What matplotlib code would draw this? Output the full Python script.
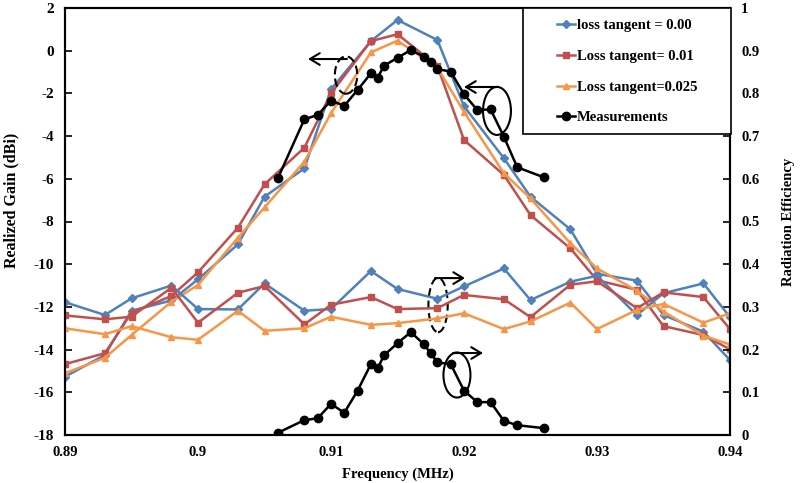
import matplotlib
matplotlib.use("Agg")
import matplotlib.pyplot as plt
from matplotlib.patches import Ellipse, Rectangle

plt.rcParams['font.family'] = ['Liberation Serif', 'DejaVu Serif']
plt.rcParams['font.weight'] = 'bold'
plt.rcParams['axes.unicode_minus'] = False

freq = [0.89, 0.893, 0.895, 0.898, 0.9, 0.903, 0.905, 0.908, 0.91, 0.913, 0.915,
        0.918, 0.92, 0.923, 0.925, 0.928, 0.93, 0.933, 0.935, 0.938, 0.94]

gain_lt000 = [-15.27, -14.25, -12.18, -11.7, -10.71, -9.07, -6.84, -5.51, -1.81, 0.45, 1.44,
              0.5, -2.6, -5.04, -6.84, -8.37, -10.45, -10.77, -12.38, -13.16, -14.49]
gain_lt001 = [-14.68, -14.17, -12.27, -11.49, -10.38, -8.29, -6.26, -4.54, -2.0, 0.45, 0.77,
              -0.72, -4.18, -5.82, -7.7, -9.26, -10.75, -11.2, -12.9, -13.32, -13.99]
gain_lt0025 = [-15.11, -14.38, -13.32, -11.76, -10.97, -8.76, -7.34, -5.2, -2.93, -0.08, 0.47,
               -0.8, -2.86, -5.74, -6.92, -9.02, -10.2, -11.24, -12.22, -13.35, -13.76]

eff_lt000 = [0.311, 0.281, 0.320, 0.350, 0.295, 0.294, 0.355, 0.291, 0.295, 0.384, 0.342,
             0.319, 0.348, 0.390, 0.316, 0.359, 0.373, 0.281, 0.332, 0.355, 0.276]
eff_lt001 = [0.280, 0.271, 0.277, 0.345, 0.263, 0.333, 0.349, 0.259, 0.305, 0.323, 0.295,
             0.297, 0.328, 0.318, 0.276, 0.352, 0.360, 0.297, 0.334, 0.323, 0.248]
eff_lt0025 = [0.250, 0.236, 0.255, 0.229, 0.223, 0.291, 0.244, 0.250, 0.277, 0.258, 0.262,
              0.273, 0.285, 0.248, 0.266, 0.310, 0.248, 0.293, 0.307, 0.263, 0.285]

meas_freq = [0.906, 0.908, 0.909, 0.910, 0.911, 0.912, 0.913, 0.9135, 0.914, 0.915, 0.916,
             0.917, 0.9175, 0.918, 0.919, 0.920, 0.921, 0.922, 0.923, 0.924, 0.926]
meas_gain = [-5.98, -3.21, -3.01, -2.34, -2.58, -1.84, -1.06, -1.26, -0.70, -0.33, 0.03,
             -0.28, -0.51, -0.86, -0.98, -2.04, -2.78, -2.75, -4.03, -5.46, -5.93]
meas_eff = [0.005, 0.035, 0.039, 0.073, 0.052, 0.104, 0.166, 0.156, 0.187, 0.215, 0.241,
            0.212, 0.191, 0.170, 0.166, 0.104, 0.077, 0.077, 0.033, 0.023, 0.016]

labels = ["loss tangent = 0.00", "Loss tangent= 0.01", "Loss tangent=0.025", "Measurements"]
colors = ["#4F81BD", "#C0504D", "#F79646", "#000000"]
markers = ["D", "s", "^", "o"]
msizes = [4.5, 5, 5, 6]

x_ticks = [0.89, 0.9, 0.91, 0.92, 0.93, 0.94]
x_ticklabels = ["0.89", "0.9", "0.91", "0.92", "0.93", "0.94"]
gain_ticks = [-18, -16, -14, -12, -10, -8, -6, -4, -2, 0, 2]
eff_ticks = [0, 0.1, 0.2, 0.3, 0.4, 0.5, 0.6, 0.7, 0.8, 0.9, 1]
eff_ticklabels = ["0", "0.1", "0.2", "0.3", "0.4", "0.5", "0.6", "0.7", "0.8", "0.9", "1"]

fig = plt.figure(figsize=(8, 4.83), dpi=100)
ax = fig.add_axes([65/800, 1-435/483, (730-65)/800, (435-8)/483])
ax2 = ax.twinx()

gains = [gain_lt000, gain_lt001, gain_lt0025]
effs = [eff_lt000, eff_lt001, eff_lt0025]
handles = []
for i in range(3):
    h, = ax.plot(freq, gains[i], color=colors[i], marker=markers[i], ms=msizes[i], lw=1.8,
                 label=labels[i])
    handles.append(h)
    ax2.plot(freq, effs[i], color=colors[i], marker=markers[i], ms=msizes[i], lw=1.8)
h, = ax2.plot(meas_freq, meas_gain, color="black", marker="o", ms=6, lw=1.8, label=labels[3],
              transform=ax.transData)
handles.append(h)
ax2.plot(meas_freq, meas_eff, color="black", marker="o", ms=6, lw=1.8)

ax.set_xlim(0.89, 0.94)
ax.set_ylim(-18, 2)
ax2.set_ylim(0, 1)
ax.set_xticks(x_ticks)
ax.set_xticklabels(x_ticklabels)
ax.set_yticks(gain_ticks)
ax.set_yticklabels([str(t) for t in gain_ticks])
ax2.set_yticks(eff_ticks)
ax2.set_yticklabels(eff_ticklabels)

ax.tick_params(axis='x', length=0, pad=8, labelsize=10.5)
ax.tick_params(axis='y', direction='in', length=5, width=1.2, pad=8, labelsize=11)
ax2.tick_params(axis='y', direction='in', length=5, width=1.2, pad=8, labelsize=10.5)
for a in (ax, ax2):
    for s in a.spines.values():
        s.set_linewidth(1.5)
        s.set_color("black")

ax.set_xlabel("Frequency (MHz)", fontsize=10.5, fontweight='bold', labelpad=6)
ax2.set_ylabel("Radiation Efficiency", fontsize=10.5, fontweight='bold', labelpad=16)
fig.text(11/800, 1-200/483, "Realized Gain (dBi)", rotation=90, ha='center', va='center',
         fontsize=11.5, fontweight='bold')

# legend box (frame drawn separately to match the wide padding)
ax2.add_patch(Rectangle(((523-65)/665, (435-134)/427), (731-523)/665, (134-8)/427,
                        transform=ax2.transAxes, facecolor='white', edgecolor='black',
                        lw=1.2, zorder=4.5, clip_on=False))
leg = ax2.legend(handles=handles, loc='upper left',
                 bbox_to_anchor=((557-65)/665, (435-19)/427),
                 borderaxespad=0, borderpad=0, frameon=False,
                 prop={'family': 'Liberation Serif', 'weight': 'bold', 'size': 10.5},
                 handlelength=1.25, handletextpad=0.1, labelspacing=1.2)
leg.set_zorder(6)

# annotations (ellipses and arrows), placed in gain-axis coordinates
ann = ax.transData
arrow = dict(arrowstyle='->,head_length=0.5,head_width=0.3', lw=1.5, color='black',
             shrinkA=0, shrinkB=0, mutation_scale=14)
ax2.add_patch(Ellipse((0.91113, -1.14), 0.00168, 1.75, transform=ann, fill=False,
                      ls=(0, (4, 2)), lw=1.5, ec='black'))
ax2.annotate('', xy=(0.90827, -0.39), xytext=(0.9112, -0.39), xycoords=ann, textcoords=ann,
             arrowprops=arrow)
ax2.add_patch(Ellipse((0.92248, -2.82), 0.0021, 2.25, transform=ann, fill=False,
                      lw=1.5, ec='black'))
ax2.annotate('', xy=(0.92, -1.70), xytext=(0.92256, -1.70), xycoords=ann, textcoords=ann,
             arrowprops=arrow)
ax2.add_patch(Ellipse((0.91805, -11.91), 0.00145, 2.55, transform=ann, fill=False,
                      ls=(0, (4, 2)), lw=1.5, ec='black'))
ax2.annotate('', xy=(0.92008, -10.65), xytext=(0.91782, -10.65), xycoords=ann, textcoords=ann,
             arrowprops=arrow)
ax2.add_patch(Ellipse((0.91947, -15.19), 0.00203, 2.11, transform=ann, fill=False,
                      lw=1.5, ec='black'))
ax2.annotate('', xy=(0.92143, -14.16), xytext=(0.91917, -14.16), xycoords=ann, textcoords=ann,
             arrowprops=arrow)

fig.savefig("out.png", dpi=100)
